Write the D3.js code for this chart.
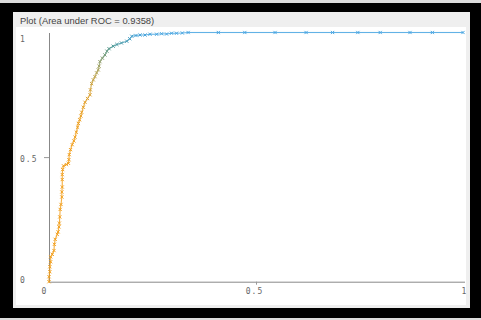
<!DOCTYPE html>
<html><head><meta charset="utf-8">
<script src="https://cdn.jsdelivr.net/npm/d3@7"></script>
<style>
html,body{margin:0;padding:0;background:#dcdcdc;}
svg{display:block;}
</style></head>
<body>
<svg id="c" width="481" height="320"></svg>
<script>
// ---- data ----
const title = "Plot (Area under ROC = 0.9358)";
const fpr = [0,0,0.002,0.002,0.004,0.004,0.008,0.012,0.013,0.015,0.02,0.022,0.024,0.025,0.026,0.027,0.029,0.031,0.031,0.032,0.032,0.032,0.033,0.035,0.042,0.047,0.048,0.049,0.052,0.056,0.06,0.063,0.066,0.069,0.071,0.074,0.077,0.079,0.083,0.087,0.093,0.099,0.1,0.103,0.107,0.111,0.115,0.119,0.121,0.123,0.129,0.135,0.14,0.145,0.155,0.164,0.175,0.188,0.195,0.2,0.21,0.22,0.232,0.244,0.26,0.272,0.284,0.296,0.308,0.322,0.336,0.409,0.473,0.546,0.621,0.685,0.746,0.8,0.872,0.926,1];
const tpr = [0,0.02,0.04,0.06,0.08,0.1,0.11,0.125,0.15,0.17,0.19,0.2,0.22,0.235,0.26,0.29,0.31,0.34,0.36,0.38,0.41,0.43,0.45,0.465,0.47,0.475,0.49,0.51,0.53,0.55,0.565,0.58,0.6,0.62,0.635,0.65,0.665,0.68,0.7,0.72,0.735,0.75,0.77,0.795,0.81,0.823,0.838,0.85,0.865,0.883,0.897,0.91,0.925,0.935,0.945,0.952,0.958,0.965,0.975,0.985,0.988,0.99,0.99,0.993,0.993,0.995,0.994,0.997,0.997,0.998,1,1,1,1,1,1,1,1,1,1,1];
const threshold = [1,1,1,1,1,1,1,1,1,1,1,1,1,1,1,1,1,1,1,1,1,1,1,1,1,1,1,1,1,1,0.99,0.99,0.99,0.98,0.98,0.97,0.96,0.95,0.94,0.92,0.9,0.88,0.85,0.8,0.76,0.72,0.68,0.64,0.6,0.55,0.5,0.45,0.4,0.35,0.3,0.26,0.22,0.18,0.12,0.08,0.05,0.03,0.02,0.015,0.01,0.008,0.006,0.005,0.004,0.003,0.002,0.001,0.001,0,0,0,0,0,0,0,0];
const xTicks = [0, 0.5, 1];
const yTicks = [0, 0.5, 1];

const pts = fpr.map((f,i)=>({f, t:tpr[i], th:threshold[i]}));

const svg = d3.select("#c");
// frame
svg.append("rect").attr("x",0).attr("y",3).attr("width",481).attr("height",315).attr("fill","#000");
svg.append("rect").attr("x",13).attr("y",12).attr("width",457).attr("height",296).attr("fill","#efefef");
svg.append("rect").attr("x",16).attr("y",27).attr("width",450).attr("height",278).attr("fill","#fff");
svg.append("text").attr("x",20).attr("y",23.5).text(title)
  .attr("font-family","Liberation Sans, Arial, sans-serif").attr("font-size","9.4px").attr("fill","#444");

const x = d3.scaleLinear().domain([0,1]).range([49,463]);
const y = d3.scaleLinear().domain([0,1]).range([281.7,32.5]);
const color = d3.scaleLinear().domain([0,0.3,0.7,1])
  .range(["#47a5e2","#4f9a98","#bba451","#f2a01e"]).interpolate(d3.interpolateRgb);

const tickFont = "DejaVu Sans Mono, monospace";

// x axis
const gx = svg.append("g").attr("transform","translate(0,281.7)")
  .call(d3.axisBottom(x).tickValues(xTicks).tickFormat(d3.format("")).tickSize(3).tickSizeOuter(0));
gx.select(".domain").attr("stroke","#888").attr("d","M49,0.5H465");
gx.selectAll(".tick line").attr("stroke","#999").attr("opacity",d=>d===0.5?1:0);
gx.selectAll(".tick text").attr("font-family",tickFont).attr("font-size","8px").attr("letter-spacing","1px")
  .attr("fill","#666").attr("y",7)
  .attr("dx",d=>d===0?"-5":d===0.5?"-2":"1");

// y axis
const gy = svg.append("g").attr("transform","translate(49,0)")
  .call(d3.axisLeft(y).tickValues(yTicks).tickFormat(d3.format("")).tickSize(5).tickSizeOuter(0));
gy.select(".domain").attr("stroke","#888");
gy.selectAll(".tick line").attr("stroke","#999").attr("opacity",d=>d===0.5?1:0);
gy.selectAll(".tick text").attr("font-family",tickFont).attr("font-size","8px").attr("letter-spacing","1px")
  .attr("fill","#666").attr("text-anchor","start").attr("x",-29)
  .attr("dy",d=>d===1?"1.1em":d===0.5?"0.5em":"0.05em");

// line segments
const g = svg.append("g");
for (let i=1;i<pts.length;i++){
  const a=pts[i-1], b=pts[i];
  g.append("line").attr("x1",x(a.f)).attr("y1",y(a.t)).attr("x2",x(b.f)).attr("y2",y(b.t))
    .attr("stroke",color(b.th)).attr("stroke-width",1.1).attr("stroke-opacity",0.85);
}
// x markers
const s=1.6;
g.selectAll("path.m").data(pts).join("path").attr("class","m")
  .attr("d",d=>{const cx=x(d.f), cy=y(d.t);return `M${cx-s},${cy-s}L${cx+s},${cy+s}M${cx-s},${cy+s}L${cx+s},${cy-s}`;})
  .attr("stroke",d=>color(d.th)).attr("stroke-width",1).attr("fill","none");
</script>
</body></html>
